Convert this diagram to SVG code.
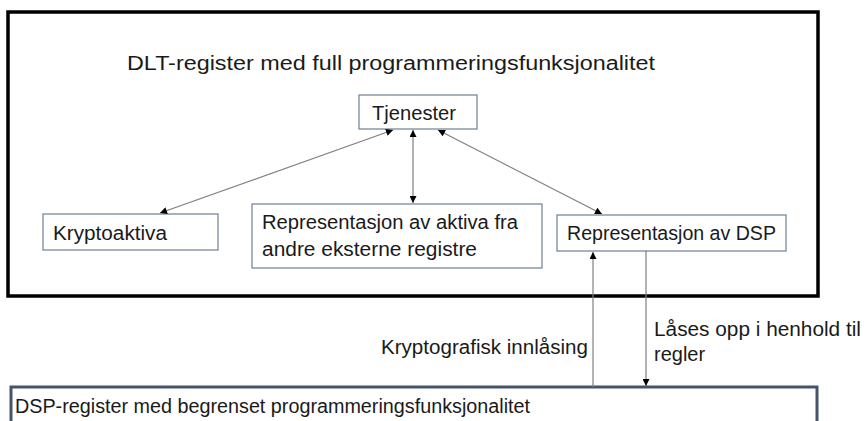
<svg xmlns="http://www.w3.org/2000/svg" width="864" height="421" viewBox="0 0 864 421">
<style>
text{font-family:"Liberation Sans",Arial,sans-serif;fill:#1a1a1a;font-size:20px}
.box{fill:#fff;stroke:#7b889c;stroke-width:1.3}
.conn{stroke:#7f7f7f;stroke-width:1.2;fill:none}
</style>
<defs>
<marker id="ah" viewBox="0 0 10 10" refX="10" refY="5" markerWidth="8" markerHeight="7" markerUnits="userSpaceOnUse" orient="auto-start-reverse">
<path d="M0,0 L10,5 L0,10 z" fill="#000"/>
</marker>
</defs>
<rect width="864" height="421" fill="#fff"/>
<g id="dlt-register">
<rect x="8" y="12" width="810" height="284" fill="none" stroke="#000" stroke-width="3.5"/>
<text x="127" y="70" font-size="22" textLength="528" lengthAdjust="spacingAndGlyphs">DLT-register med full programmeringsfunksjonalitet</text>
</g>
<g id="dsp-register">
<rect x="11" y="387" width="806" height="60" fill="none" stroke="#44546a" stroke-width="3"/>
<text x="15" y="413" textLength="515" lengthAdjust="spacingAndGlyphs">DSP-register med begrenset programmeringsfunksjonalitet</text>
</g>
<g id="tjenester">
<rect class="box" x="359" y="95" width="118" height="34"/>
<text x="372" y="120" textLength="84" lengthAdjust="spacingAndGlyphs">Tjenester</text>
</g>
<g id="kryptoaktiva">
<rect class="box" x="43" y="214" width="175" height="36"/>
<text x="53" y="240" textLength="114" lengthAdjust="spacingAndGlyphs">Kryptoaktiva</text>
</g>
<g id="representasjon-aktiva">
<rect class="box" x="252" y="204" width="290" height="64"/>
<text x="262" y="229" textLength="256" lengthAdjust="spacingAndGlyphs">Representasjon av aktiva fra</text>
<text x="262" y="256" textLength="215" lengthAdjust="spacingAndGlyphs">andre eksterne registre</text>
</g>
<g id="representasjon-dsp">
<rect class="box" x="557" y="215" width="229" height="36"/>
<text x="567" y="240" textLength="209" lengthAdjust="spacingAndGlyphs">Representasjon av DSP</text>
</g>
<g id="connectors">
<line class="conn" x1="393" y1="130" x2="160" y2="213" marker-start="url(#ah)" marker-end="url(#ah)"/>
<line class="conn" x1="413" y1="130" x2="413" y2="203" marker-start="url(#ah)" marker-end="url(#ah)"/>
<line class="conn" x1="438" y1="130" x2="602" y2="214" marker-start="url(#ah)" marker-end="url(#ah)"/>
<line class="conn" x1="593" y1="387" x2="593" y2="252" marker-end="url(#ah)"/>
<line class="conn" x1="646" y1="251" x2="646" y2="386" marker-end="url(#ah)"/>
<text x="588" y="354" text-anchor="end" textLength="207" lengthAdjust="spacingAndGlyphs">Kryptografisk innlåsing</text>
<text x="654" y="336" textLength="207" lengthAdjust="spacingAndGlyphs">Låses opp i henhold til</text>
<text x="654" y="361">regler</text>
</g>
</svg>
